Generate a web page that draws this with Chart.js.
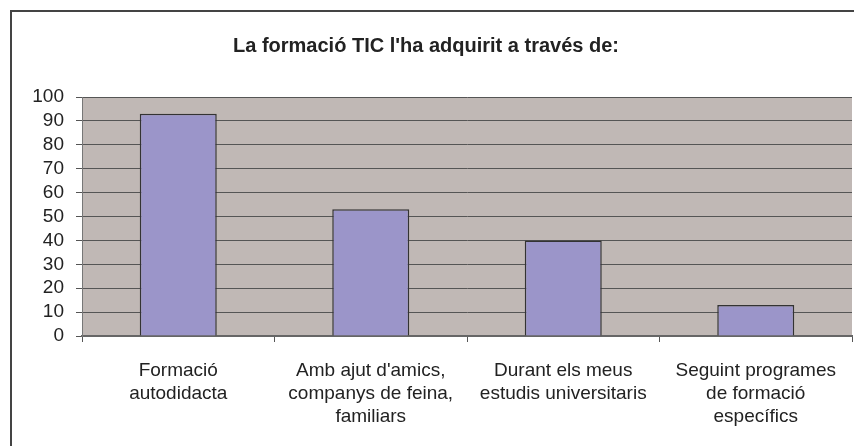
<!DOCTYPE html>
<html>
<head>
<meta charset="utf-8">
<script src="https://cdn.jsdelivr.net/npm/chart.js@4.4.1/dist/chart.umd.min.js"></script>
<style>
  html, body { margin: 0; padding: 0; background: #fff; }
  #wrap { width: 854px; height: 446px; position: relative; }
</style>
</head>
<body>
<div id="wrap"><canvas id="chart"></canvas></div>
<script>
// chart data
const categories = [
  ['Formació', 'autodidacta'],
  ['Amb ajut d\'amics,', 'companys de feina,', 'familiars'],
  ['Durant els meus', 'estudis universitaris'],
  ['Seguint programes', 'de formació', 'específics']
];
const values = [93, 53, 40, 13];
const yTicks = [0, 10, 20, 30, 40, 50, 60, 70, 80, 90, 100];
const titleText = 'La formació TIC l\'ha adquirit a través de:';

// plot background + outer frame
const frame = {
  id: 'frame',
  beforeDraw(chart) {
    const c = chart.ctx, a = chart.chartArea;
    c.save();
    c.fillStyle = '#c0b8b5';
    c.fillRect(a.left, a.top, a.right - a.left, a.bottom - a.top);
    c.strokeStyle = '#444';
    c.lineWidth = 2;
    c.strokeRect(11, 11, 860, 450);
    c.restore();
  }
};

const font = 'Liberation Sans, Arial, sans-serif';

new Chart(document.getElementById('chart'), {
  type: 'bar',
  data: {
    labels: categories,
    datasets: [{
      data: values,
      backgroundColor: '#9b95c9',
      borderColor: '#333',
      borderWidth: 1.5,
      barPercentage: 0.4,
      categoryPercentage: 1
    }]
  },
  options: {
    responsive: true,
    maintainAspectRatio: false,
    animation: false,
    layout: { padding: { left: 0, right: 2, top: 0, bottom: 0 } },
    plugins: {
      legend: { display: false },
      tooltip: { enabled: false },
      title: {
        display: true,
        text: titleText,
        color: '#222',
        font: { family: font, size: 20, weight: 'bold', lineHeight: 1.2 },
        padding: { top: 34, bottom: 39 }
      }
    },
    scales: {
      x: {
        grid: {
          display: true,
          drawOnChartArea: false,
          drawTicks: true,
          tickLength: 6,
          color: '#555',
          offset: true
        },
        border: { color: '#666', width: 2 },
        ticks: {
          color: '#222',
          maxRotation: 0,
          autoSkip: false,
          padding: 17,
          font: { family: font, size: 19, lineHeight: 1.22 }
        },
        afterFit(scale) { scale.height = 110; }
      },
      y: {
        min: 0,
        max: 100,
        afterBuildTicks(scale) { scale.ticks = yTicks.map(v => ({ value: v })); },
        grid: {
          color: '#555',
          lineWidth: 1,
          tickLength: 6
        },
        border: { color: '#777', width: 1 },
        ticks: {
          color: '#222',
          autoSkip: false,
          padding: 12,
          font: { family: font, size: 19 }
        },
        afterFit(scale) { scale.width = 82; }
      }
    }
  },
  plugins: [frame]
});
</script>
</body>
</html>
